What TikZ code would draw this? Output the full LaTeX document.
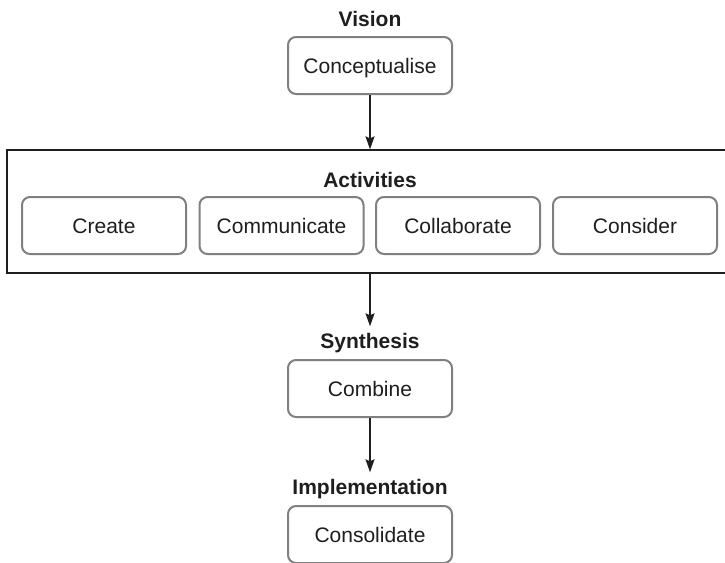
\documentclass[tikz,border=0pt]{standalone}
\usepackage{fontspec}
\setmainfont{Liberation Sans}
\usetikzlibrary{arrows.meta}
\definecolor{boxgray}{HTML}{808080}
\definecolor{ink}{HTML}{1E1E1E}
\begin{document}
\begin{tikzpicture}[x=1pt,y=-1pt,
  stagebox/.style={draw=boxgray, line width=2pt, rounded corners=8pt, fill=white,
    minimum width=164pt, minimum height=57pt, inner sep=0pt, text=ink,
    text height=15pt, text depth=0pt,
    font=\fontsize{21}{25}\selectfont},
  heading/.style={text=ink, inner sep=2pt, text height=15pt, text depth=0pt,
    font=\fontsize{21}{25}\selectfont\bfseries},
  flow/.style={draw=ink, line width=1.3pt, -{Stealth[length=13pt,width=9pt,inset=2pt]}}]
\useasboundingbox (0,0) rectangle (725,562);
% outer frame
\node[draw=ink, line width=1.3pt, minimum width=725pt, minimum height=123pt, inner sep=0pt]
  (outer) at (369.5,211.5) {};
% labels
\node[heading] (vision) at (370,19) {Vision};
\node[heading] (activities) at (370,180) {Activities};
\node[heading] (synthesis) at (370,341) {Synthesis};
\node[heading] (implementation) at (370,487) {Implementation};
% boxes
\node[stagebox] (concept) at (370,65.5) {Conceptualise};
\node[stagebox] (create) at (104,225.5) {Create};
\node[stagebox] (communicate) at (281.5,225.5) {Communicate};
\node[stagebox] (collaborate) at (458,225.5) {Collaborate};
\node[stagebox] (consider) at (635,225.5) {Consider};
\node[stagebox] (combine) at (370,388.5) {Combine};
\node[stagebox] (consolidate) at (370,534.5) {Consolidate};
% connectors
\coordinate (outtop) at (concept.south |- outer.north);
\coordinate (outbot) at (concept.south |- outer.south);
\draw[flow] (concept.south) -- (outtop);
\draw[flow] (outbot) -- ([yshift=5pt]synthesis.north);
\draw[flow] (combine.south) -- ([yshift=5pt]implementation.north);
\end{tikzpicture}
\end{document}
